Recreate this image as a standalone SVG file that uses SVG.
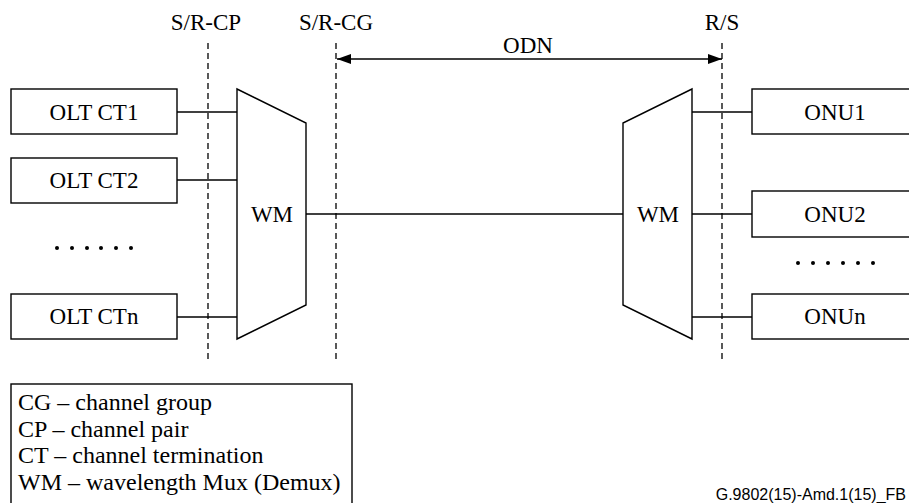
<svg xmlns="http://www.w3.org/2000/svg" width="909" height="503" viewBox="0 0 909 503">
<defs>
<style>
.t{font-family:'Liberation Serif','Times New Roman',Times,'DejaVu Serif',serif;font-size:23px;fill:#000;text-anchor:middle}
.lg{font-family:'Liberation Serif','Times New Roman',Times,'DejaVu Serif',serif;font-size:24px;fill:#000}
.ft{font-family:'Liberation Sans',Arial,sans-serif;font-size:16px;fill:#000;text-anchor:end}
.box{fill:#fff;stroke:#000;stroke-width:1.4}
.ln{stroke:#000;stroke-width:1.3;fill:none}
.dash{stroke:#000;stroke-width:1.3;stroke-dasharray:6,4;fill:none}
.dot{fill:#000}
</style>
<marker id="ah" viewBox="0 0 14 10" refX="14" refY="5" markerWidth="14" markerHeight="10" markerUnits="userSpaceOnUse" orient="auto-start-reverse">
<path d="M0,0 L14,5 L0,10 Z" fill="#000"/>
</marker>
</defs>
<rect width="909" height="503" fill="#fff"/>

<g id="reference-lines">
<line class="dash" x1="208" y1="43" x2="208" y2="362"/>
<line class="dash" x1="336" y1="43" x2="336" y2="362"/>
<line class="dash" x1="722" y1="43" x2="722" y2="362"/>
<text class="t" x="206" y="30">S/R-CP</text>
<text class="t" x="336" y="30">S/R-CG</text>
<text class="t" x="722" y="30">R/S</text>
</g>

<g id="connectors">
<line class="ln" x1="337" y1="59" x2="722" y2="59" marker-start="url(#ah)" marker-end="url(#ah)"/>
<text class="t" x="528" y="53">ODN</text>
<line class="ln" x1="177" y1="112" x2="237" y2="112"/>
<line class="ln" x1="177" y1="180" x2="237" y2="180"/>
<line class="ln" x1="177" y1="317" x2="237" y2="317"/>
<line class="ln" x1="306" y1="214" x2="623" y2="214"/>
<line class="ln" x1="692" y1="112" x2="752" y2="112"/>
<line class="ln" x1="692" y1="214" x2="752" y2="214"/>
<line class="ln" x1="692" y1="317" x2="752" y2="317"/>
</g>

<g id="olt-ct1"><rect class="box" x="11" y="89" width="166" height="45"/><text class="t" x="94" y="120">OLT CT1</text></g>
<g id="olt-ct2"><rect class="box" x="11" y="158" width="166" height="45"/><text class="t" x="94" y="188">OLT CT2</text></g>
<g id="olt-dots">
<circle class="dot" cx="57" cy="248" r="2"/><circle class="dot" cx="72" cy="248" r="2"/><circle class="dot" cx="87" cy="248" r="2"/><circle class="dot" cx="101" cy="248" r="2"/><circle class="dot" cx="116" cy="248" r="2"/><circle class="dot" cx="131" cy="248" r="2"/>
</g>
<g id="olt-ctn"><rect class="box" x="11" y="294" width="166" height="45"/><text class="t" x="94" y="324">OLT CTn</text></g>

<g id="wm-left"><path class="box" d="M237,89 L306,123 L306,305 L237,339 Z"/><text class="t" x="272" y="222">WM</text></g>
<g id="wm-right"><path class="box" d="M692,89 L623,123 L623,305 L692,339 Z"/><text class="t" x="658" y="222">WM</text></g>

<g id="onu1"><rect class="box" x="752" y="89" width="166" height="45"/><text class="t" x="835" y="120">ONU1</text></g>
<g id="onu2"><rect class="box" x="752" y="191" width="166" height="46"/><text class="t" x="835" y="222">ONU2</text></g>
<g id="onu-dots">
<circle class="dot" cx="798" cy="263" r="2"/><circle class="dot" cx="813" cy="263" r="2"/><circle class="dot" cx="828" cy="263" r="2"/><circle class="dot" cx="843" cy="263" r="2"/><circle class="dot" cx="858" cy="263" r="2"/><circle class="dot" cx="873" cy="263" r="2"/>
</g>
<g id="onun"><rect class="box" x="752" y="294" width="166" height="45"/><text class="t" x="835" y="324">ONUn</text></g>

<g id="legend">
<rect class="box" x="11" y="384" width="341" height="130"/>
<text class="lg" x="18" y="410">CG – channel group</text>
<text class="lg" x="18" y="437">CP – channel pair</text>
<text class="lg" x="18" y="463">CT – channel termination</text>
<text class="lg" x="18" y="490">WM – wavelength Mux (Demux)</text>
</g>

<text class="ft" x="906" y="500">G.9802(15)-Amd.1(15)_FB</text>
</svg>
